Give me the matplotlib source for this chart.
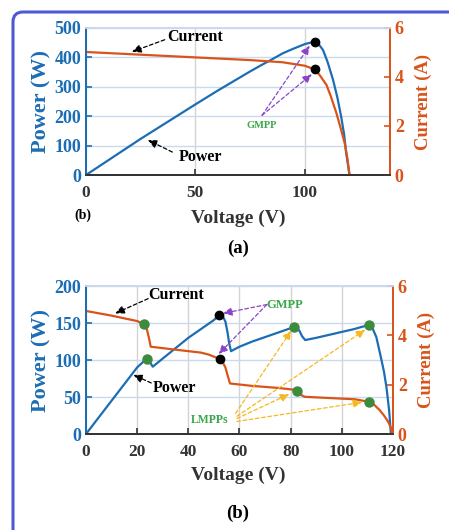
import matplotlib
matplotlib.use("Agg")
import matplotlib.pyplot as plt
from matplotlib.path import Path
from matplotlib.patches import PathPatch

plt.rcParams['font.family'] = 'Liberation Serif'
plt.rcParams['font.weight'] = 'bold'

blue = '#1c6db4'
orange = '#d9541a'
green = '#3d8b3d'

# (a) uniform irradiance
va_p = [0, 25, 50, 60, 75, 80, 85, 90, 95, 100, 102.5, 104.6, 106.5, 108.4, 110.5, 113, 115, 116.7, 118, 119, 120.5]
pa = [0, 123, 240, 286, 352, 373, 393, 414, 430, 445, 450, 452, 444, 425, 384, 323, 262, 198, 140, 74, 0]
va_i = [0, 25, 50, 75, 90, 100, 104.6, 107, 110, 112, 114.5, 116.5, 118.3, 119.5, 120.5]
ia = [5.02, 4.91, 4.80, 4.69, 4.60, 4.46, 4.31, 4.06, 3.67, 3.2, 2.53, 1.9, 1.3, 0.7, 0]
gmpp_a_v, gmpp_a_p = 104.6, 452
gmpp_a_vi, gmpp_a_i = 104.6, 4.31

# (b) partial shading
vb_p = [0, 10, 20, 22.5, 24, 25, 26.1, 30, 35, 40, 45, 50, 52.1, 53.5, 54.5, 55.3, 56, 56.7,
        60, 65, 70, 75, 80, 81.4, 82.5, 83.5, 84.5, 85.7, 90, 95, 100, 105, 108, 110.5,
        112, 113.5, 115, 116.5, 117.5, 118.5, 119.2]
pb = [0, 45, 90, 98, 101, 97, 91, 102, 116, 130, 142, 154, 161, 159, 152, 138, 122, 112,
      118, 125, 131, 137, 143, 145, 144, 139, 132, 127, 130, 134, 138, 142, 145, 147,
      143, 131, 108, 84, 62, 32, 0]
vb_i = [0, 10, 20, 22.8, 23.8, 24.6, 25.3, 35, 45, 48, 52.3, 53.5, 54.5, 55.3, 56.3,
        65, 75, 81, 82.3, 83.5, 84.5, 85.5, 95, 105, 110.5, 112.5, 114.8, 116.5, 118.1, 119.2, 119.8]
ib = [4.99, 4.80, 4.58, 4.45, 4.25, 3.9, 3.54, 3.42, 3.30, 3.22, 3.04, 2.9, 2.7, 2.4, 2.05,
      1.95, 1.87, 1.80, 1.74, 1.64, 1.56, 1.51, 1.46, 1.41, 1.31, 1.2, 0.97, 0.75, 0.5, 0.25, 0]
lmpp_b_v = [24, 81.4, 110.5]
lmpp_b_p = [101, 145, 147]
lmpp_b_vi = [22.8, 82.3, 110.5]
lmpp_b_i = [4.45, 1.74, 1.31]
gmpp_b_v, gmpp_b_p = 52.1, 161
gmpp_b_vi, gmpp_b_i = 52.3, 3.04

fig = plt.figure(figsize=(4.49, 5.30), dpi=100)

# rounded frame, only top-left corner visible
x0, y1 = 13/449, 1 - 12/530
rx, ry = 10/449, 10/530
frame_path = Path([(x0, 0.0), (x0, y1 - ry), (x0, y1), (x0 + rx, y1), (1.0, y1)],
                  [Path.MOVETO, Path.LINETO, Path.CURVE3, Path.CURVE3, Path.LINETO])
fig.patches.append(PathPatch(frame_path, transform=fig.transFigure, fill=False,
                             edgecolor='#4c5bd4', lw=2.2))


def style(ax, ax2, xlim, xticks, ylim, yticks, ilim, iticks):
    ax.set_xlim(xlim)
    ax.set_ylim(ylim)
    ax2.set_ylim(ilim)
    ax.set_xticks(xticks)
    ax.set_yticks(yticks)
    ax2.set_yticks(iticks)
    ax.grid(axis='y', color='#c9d9ee', lw=1)
    ax.grid(axis='x', color='#d4d4d4', lw=1)
    ax.set_axisbelow(True)
    for a in (ax, ax2):
        a.spines['top'].set_color('#c9d9ee')
        a.spines['bottom'].set_color('#333333')
        a.spines['left'].set_color(blue)
        a.spines['right'].set_color(orange)
        for s in a.spines.values():
            s.set_linewidth(1.3)
    ax.tick_params(axis='y', colors=blue, labelsize=13, direction='in', length=4, width=1.2)
    ax.tick_params(axis='x', colors='#333333', labelcolor='#333333', labelsize=12.5,
                   direction='in', length=4, width=1.2, pad=7)
    ax2.tick_params(axis='y', colors=orange, labelsize=13, direction='in', length=4, width=1.2)
    for t in ax.get_xticklabels() + ax.get_yticklabels() + ax2.get_yticklabels():
        t.set_fontweight('bold')
    ax.set_ylabel('Power (W)', fontsize=16, fontweight='bold', color=blue, labelpad=2)
    ax2.set_ylabel('Current (A)', fontsize=13.5, fontweight='bold', color=orange, labelpad=8)


AP = dict(arrowstyle='-|>,head_length=0.55,head_width=0.25', ls=(0, (3, 2)), lw=0.9,
          shrinkA=0, shrinkB=0)


def arrow(ax, start, tip, color, T):
    ax.annotate('', xy=tip, xytext=start, xycoords=T, textcoords=T,
                arrowprops=dict(AP, color=color))


# ---- top panel
ax = fig.add_axes([0.1915, 0.6698, 0.677, 0.2774])
ax2 = ax.twinx()
ax.plot(va_p, pa, color=blue, lw=1.6)
ax2.plot(va_i, ia, color=orange, lw=1.6)
ax.plot(gmpp_a_v, gmpp_a_p, 'o', color='black', ms=6, zorder=5)
ax2.plot(gmpp_a_vi, gmpp_a_i, 'o', color='black', ms=6, zorder=5)
style(ax, ax2, (0, 139), [0, 50, 100], (0, 500), [0, 100, 200, 300, 400, 500], (0, 6), [0, 2, 4, 6])

A = ax.transData
ax2.text(50, 469, 'Current', fontsize=11.5, fontweight='bold', ha='center', va='center', transform=A)
arrow(ax2, (36, 460), (21, 419), 'black', A)
ax2.text(52.5, 61, 'Power', fontsize=11.5, fontweight='bold', ha='center', va='center', transform=A)
arrow(ax2, (39.5, 78), (28.3, 119), 'black', A)
ax2.text(80.5, 167, 'GMPP', fontsize=7.5, fontweight='bold', color='#3aa84a', ha='center',
         va='center', transform=A)
arrow(ax2, (80.5, 203), (102.3, 440), '#8a44c8', A)
arrow(ax2, (80.5, 203), (103.3, 343), '#8a44c8', A)

fig.text(0.530, 1 - 218/530, 'Voltage (V)', fontsize=14, fontweight='bold', color='#333333',
         ha='center', va='center')
fig.text(83/449, 1 - 215/530, '(b)', fontsize=10, fontweight='bold', ha='center', va='center')
fig.text(0.530, 0.532, '(a)', fontsize=13.5, fontweight='bold', ha='center', va='center')

# ---- bottom panel
bx = fig.add_axes([0.1915, 0.1811, 0.6837, 0.2792])
bx2 = bx.twinx()
bx.plot(vb_p, pb, color=blue, lw=1.6)
bx2.plot(vb_i, ib, color=orange, lw=1.6)
bx.plot(lmpp_b_v, lmpp_b_p, 'o', color=green, ms=6.5, zorder=5)
bx2.plot(lmpp_b_vi, lmpp_b_i, 'o', color=green, ms=6.5, zorder=5)
bx.plot(gmpp_b_v, gmpp_b_p, 'o', color='black', ms=6, zorder=5)
bx2.plot(gmpp_b_vi, gmpp_b_i, 'o', color='black', ms=6, zorder=5)
style(bx, bx2, (0, 120), [0, 20, 40, 60, 80, 100, 120], (0, 200), [0, 50, 100, 150, 200],
      (0, 6), [0, 2, 4, 6])

T = bx.transData
bx2.text(35.2, 188, 'Current', fontsize=11.5, fontweight='bold', ha='center', va='center', transform=T)
bx2.text(34.6, 62, 'Power', fontsize=11.5, fontweight='bold', ha='center', va='center', transform=T)
bx2.text(77.8, 175, 'GMPP', fontsize=9, fontweight='bold', color='#3aa84a', ha='center', va='center', transform=T)
bx2.text(48.5, 19, 'LMPPs', fontsize=8.5, fontweight='bold', color='#3aa84a', ha='center', va='center', transform=T)

arrow(bx2, (24.3, 183), (11.4, 163), 'black', T)
arrow(bx2, (25.5, 69), (18.5, 80), 'black', T)
arrow(bx2, (70.7, 175), (53.5, 163), '#8a44c8', T)
arrow(bx2, (70.7, 175), (51.8, 108), '#8a44c8', T)
arrow(bx2, (58.5, 28), (80.3, 140), '#f5b820', T)
arrow(bx2, (59, 24), (109.2, 141), '#f5b820', T)
arrow(bx2, (59, 21), (79.5, 54), '#f5b820', T)
arrow(bx2, (59, 17), (108, 43), '#f5b820', T)

fig.text(0.530, 1 - 475/530, 'Voltage (V)', fontsize=14, fontweight='bold', color='#333333',
         ha='center', va='center')
fig.text(0.530, 0.032, '(b)', fontsize=13.5, fontweight='bold', ha='center', va='center')

fig.savefig('out.png', dpi=100)
